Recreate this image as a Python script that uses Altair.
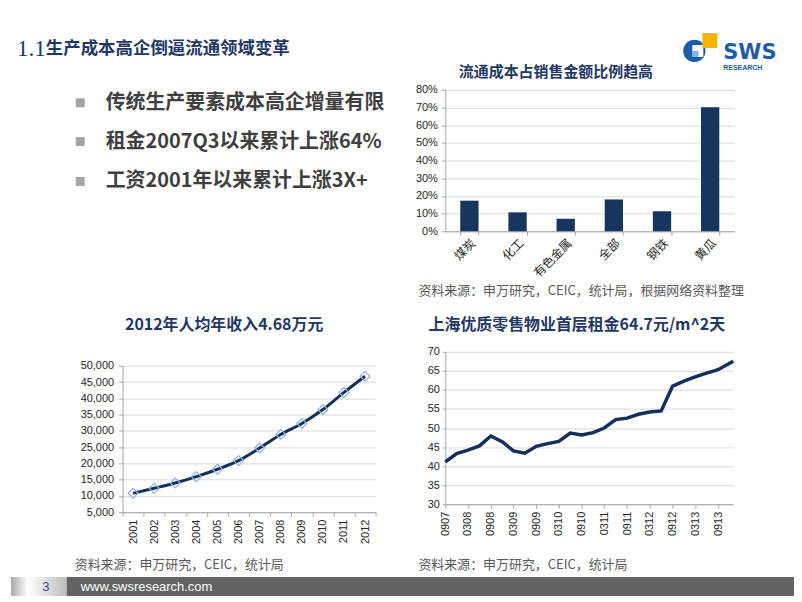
import altair as alt
import pandas as pd

# ---------------- data ----------------
bar_categories = ["煤炭", "化工", "有色金属", "全部", "钢铁", "黄瓜"]
bar_values = [0.173, 0.107, 0.071, 0.180, 0.113, 0.702]
bar_ticks = [0, 0.1, 0.2, 0.3, 0.4, 0.5, 0.6, 0.7, 0.8]

income_years = ["2001", "2002", "2003", "2004", "2005", "2006",
                "2007", "2008", "2009", "2010", "2011", "2012"]
income_values = [10834, 12373, 13969, 15920, 18200, 20856,
                 24721, 28898, 32244, 36539, 41799, 46769]
income_ticks = [5000, 10000, 15000, 20000, 25000, 30000, 35000, 40000, 45000, 50000]

rent_dates = ["2007/09/01", "2007/12/01", "2008/03/01", "2008/06/01", "2008/09/01",
              "2008/12/01", "2009/03/01", "2009/06/01", "2009/09/01", "2009/12/01",
              "2010/03/01", "2010/06/01", "2010/09/01", "2010/12/01", "2011/03/01",
              "2011/06/01", "2011/09/01", "2011/12/01", "2012/03/01", "2012/06/01",
              "2012/09/01", "2012/12/01", "2013/03/01", "2013/06/01", "2013/09/01",
              "2014/01/01"]
rent_values = [41.1, 43.3, 44.2, 45.3, 47.9, 46.4, 44.0, 43.4, 45.2, 45.9,
               46.5, 48.7, 48.2, 48.8, 50.0, 52.2, 52.6, 53.6, 54.2, 54.5,
               61.0, 62.3, 63.4, 64.4, 65.3, 67.5]
rent_tick_months = [(2007, 9), (2008, 3), (2008, 9), (2009, 3), (2009, 9), (2010, 3),
                    (2010, 9), (2011, 3), (2011, 9), (2012, 3), (2012, 9), (2013, 3),
                    (2013, 9)]
rent_y_ticks = [30, 35, 40, 45, 50, 55, 60, 65, 70]

slide_num = "1.1"
slide_title = "生产成本高企倒逼流通领域变革"
bullets = ["传统生产要素成本高企增量有限", "租金2007Q3以来累计上涨64%", "工资2001年以来累计上涨3X+"]
bar_title = "流通成本占销售金额比例趋高"
income_title = "2012年人均年收入4.68万元"
rent_title = "上海优质零售物业首层租金64.7元/m^2天"
source_bar = "资料来源：申万研究，CEIC，统计局，根据网络资料整理"
source_short = "资料来源：申万研究，CEIC，统计局"
page_no = "3"
site = "www.swsresearch.com"

# ---------------- styles ----------------
NAVY = "#1F3864"
LINE = "#132F5E"
BAR = "#17365D"
CJK = "Noto Sans CJK SC"
LAT = "Liberation Sans, Noto Sans CJK SC"

dummy = pd.DataFrame({"a": [0]})


def txt(s, x, y, size, color, weight="normal", font=CJK, align="left", baseline="middle"):
    return alt.Chart(dummy).mark_text(
        text=s, fontSize=size, color=color, fontWeight=weight, font=font,
        align=align, baseline=baseline
    ).encode(x=alt.value(x), y=alt.value(y))


def box(x, x2, y, y2, color, opacity=1):
    return alt.Chart(dummy).mark_rect(color=color, opacity=opacity).encode(
        x=alt.value(x), x2=alt.value(x2), y=alt.value(y), y2=alt.value(y2))


def filler(w=1, h=1):
    return alt.Chart(dummy).mark_point(opacity=0).encode(
        x=alt.value(0), y=alt.value(0)).properties(width=w, height=h)


# ---------------- header (row 0) ----------------
header = alt.layer(
    txt(slide_num, 6, 37, 23, NAVY, font="Liberation Serif"),
    txt(slide_title, 35, 37, 17.5, NAVY, weight="bold"),
    txt(bar_title, 547, 60, 15, NAVY, weight="bold", align="center"),
    alt.Chart(dummy).mark_circle(color="#1E5BAA", opacity=1).encode(
        x=alt.value(686), y=alt.value(39), size=alt.value(500)),
    box(684, 695, 33, 45, "white"),
    box(684, 690, 39, 45, "#7FB2E5"),
    box(694, 709, 21, 36, "#F5B400"),
    txt("SWS", 715, 41, 21, "#1E5BAA", weight="bold", font="DejaVu Sans"),
    txt("RESEARCH", 715, 56, 7, "#1E5BAA", weight="bold", font="Liberation Sans"),
).properties(width=112, height=78)

# ---------------- bullets (row 1) ----------------
bullet_layers = []
for b, yy in zip(bullets, [13, 52, 92]):
    bullet_layers.append(box(65, 74, yy - 4.5, yy + 4.5, "#A5A5A5"))
    bullet_layers.append(txt(b, 95, yy, 20, "#3F3F3F", weight="bold"))
left1 = alt.layer(*bullet_layers).properties(width=112, height=142)

# ---------------- bar chart ----------------
bar_df = pd.DataFrame({"cat": bar_categories, "val": bar_values})
bar = alt.Chart(bar_df).mark_bar(color=BAR).encode(
    x=alt.X("cat:N", sort=bar_categories,
            scale=alt.Scale(paddingInner=0.62, paddingOuter=0.31),
            axis=alt.Axis(labelAngle=-45, labelFontSize=12, tickBand="extent",
                          tickSize=4, grid=False, labelPadding=2, title=None)),
    y=alt.Y("val:Q", scale=alt.Scale(domain=[0, 0.8], nice=False),
            axis=alt.Axis(values=bar_ticks, format=".0%", grid=True, tickSize=4,
                          labelPadding=4, title=None)),
).properties(width=290, height=142)

# ---------------- middle titles (row 2) ----------------
mid = alt.layer(
    txt(source_bar, 409, 60, 13, "#595959"),
    txt(income_title, 214, 94, 16, NAVY, weight="bold", align="center"),
    txt(rent_title, 568, 94, 16, NAVY, weight="bold", align="center"),
).properties(width=112, height=121)

# ---------------- income chart ----------------
income_df = pd.DataFrame({"year": income_years, "val": income_values})
inc_base = alt.Chart(income_df).encode(
    x=alt.X("year:O", bandPosition=0.5,
            scale=alt.Scale(type="band", paddingInner=0, paddingOuter=0),
            axis=alt.Axis(labelAngle=-90, tickBand="extent", tickSize=4, grid=False,
                          labelPadding=3, title=None)),
    y=alt.Y("val:Q", scale=alt.Scale(domain=[5000, 50000], nice=False, range=[161, 14]),
            axis=alt.Axis(values=income_ticks, format=",d", grid=True, tickSize=4,
                          labelPadding=5, title=None)),
)
income = alt.layer(
    inc_base.mark_line(color=LINE, strokeWidth=3, interpolate="monotone"),
    inc_base.mark_point(shape="diamond", size=100, filled=False, color="#8EB4E3",
                        strokeWidth=1.2, opacity=1),
).properties(width=254, height=161)

# ---------------- rent chart ----------------
rent_df = pd.DataFrame({"date": rent_dates, "val": rent_values})
rent = alt.Chart(rent_df).mark_line(color=LINE, strokeWidth=3.5).encode(
    x=alt.X("date:T",
            scale=alt.Scale(domain=[alt.DateTime(year=2007, month=9, date=1),
                                    alt.DateTime(year=2014, month=1, date=1)], nice=False),
            axis=alt.Axis(values=[alt.DateTime(year=y, month=m, date=1) for y, m in rent_tick_months],
                          format="%m%y", labelAngle=-90, tickSize=4, grid=False,
                          labelPadding=3, title=None)),
    y=alt.Y("val:Q", scale=alt.Scale(domain=[30, 70], nice=False, zero=False),
            axis=alt.Axis(values=rent_y_ticks, grid=True, tickSize=3, labelPadding=3,
                          title=None)),
).properties(width=289, height=153)

# ---------------- sources (row 4) ----------------
sources = alt.layer(
    txt(source_short, 64, 53, 13, "#595959"),
    txt(source_short, 409, 53, 13, "#595959"),
).properties(width=112, height=65)

# ---------------- footer (row 5) ----------------
silver = alt.Gradient(
    gradient="linear", x1=0, x2=1, y1=0, y2=0,
    stops=[alt.GradientStop(offset=0, color="#A9A9A9"),
           alt.GradientStop(offset=0.3, color="#FFFFFF"),
           alt.GradientStop(offset=1, color="#BDBDBD")])
footer = alt.layer(
    alt.Chart(dummy).mark_rect(color=silver).encode(
        x=alt.value(0), x2=alt.value(56), y=alt.value(0), y2=alt.value(19)),
    box(56, 786, 0, 19, "#636363"),
    txt(page_no, 35, 10, 13, "#2E4C8F", font="Liberation Sans", align="center"),
    txt(site, 70, 10, 13, "white", font="Liberation Sans"),
).properties(width=112, height=19)

# grid: columns widths 112 | 254 | 70 | 290 | 60
cells = [
    header, filler(), filler(), filler(), filler(60, 1),
    left1, filler(), filler(70, 1), bar, filler(),
    mid, filler(), filler(), filler(), filler(),
    filler(), income, filler(), rent, filler(),
    sources, filler(), filler(), filler(), filler(),
    footer, filler(), filler(), filler(), filler(),
]

chart = alt.concat(*cells, columns=5, spacing=0, bounds="flush").properties(
    padding=0, background="white"
).configure_view(stroke=None).configure_axis(
    labelFont=LAT, labelFontSize=11, labelColor="#262626",
    domainColor="#A6A6A6", tickColor="#A6A6A6", gridColor="#D9D9D9"
)

chart.save("out.html", embed_options={"renderer": "svg", "actions": False})
